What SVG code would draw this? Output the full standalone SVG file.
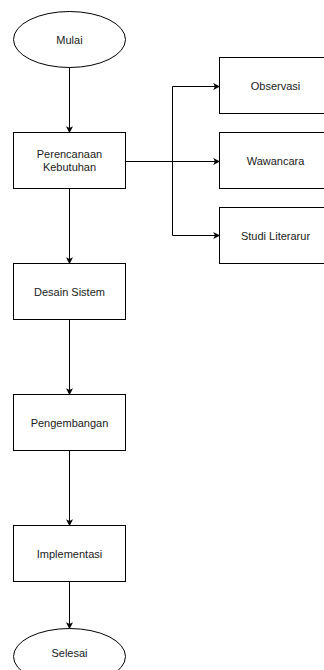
<svg xmlns="http://www.w3.org/2000/svg" width="324" height="670" viewBox="0 0 324 670">
<style>
.n{fill:#fff;stroke:#000;stroke-width:1}
.t{font-family:"Liberation Sans",Arial,sans-serif;font-size:11px;fill:#1a1a1a;text-anchor:middle;dominant-baseline:central}
.c{fill:none;stroke:#000;stroke-width:1}
</style>
<defs>
<marker id="a" viewBox="0 0 10 10" refX="9" refY="5" markerWidth="7" markerHeight="7" markerUnits="userSpaceOnUse" orient="auto">
<path d="M0,0 L10,5 L0,10 L2.5,5 Z" fill="#000"/>
</marker>
</defs>
<rect width="324" height="670" fill="#fff"/>
<g id="connectors">
<path class="c" d="M69.5,67 V132.5" marker-end="url(#a)"/>
<path class="c" d="M69.5,188.5 V263.5" marker-end="url(#a)"/>
<path class="c" d="M69.5,319.5 V394.5" marker-end="url(#a)"/>
<path class="c" d="M69.5,450.5 V525.5" marker-end="url(#a)"/>
<path class="c" d="M69.5,581.5 V628.5" marker-end="url(#a)"/>
<path class="c" d="M125.5,161.5 H219.5" marker-end="url(#a)"/>
<path class="c" d="M172.5,161.5 V86.5 H219.5" marker-end="url(#a)"/>
<path class="c" d="M172.5,161.5 V235.5 H219.5" marker-end="url(#a)"/>
</g>
<g id="mulai"><ellipse class="n" cx="69.5" cy="39.5" rx="56" ry="28"/><text class="t" x="69.5" y="39.5">Mulai</text></g>
<g id="perencanaan"><rect class="n" x="13.5" y="132.5" width="112" height="56"/><text class="t" x="69.5" y="154">Perencanaan</text><text class="t" x="69.5" y="167">Kebutuhan</text></g>
<g id="desain"><rect class="n" x="13.5" y="263.5" width="112" height="56"/><text class="t" x="69.5" y="291.5">Desain Sistem</text></g>
<g id="pengembangan"><rect class="n" x="13.5" y="394.5" width="112" height="56"/><text class="t" x="69.5" y="422.5">Pengembangan</text></g>
<g id="implementasi"><rect class="n" x="13.5" y="525.5" width="112" height="56"/><text class="t" x="69.5" y="553.5">Implementasi</text></g>
<g id="selesai"><ellipse class="n" cx="69.5" cy="656.5" rx="56" ry="28"/><text class="t" x="69.5" y="652.5">Selesai</text></g>
<g id="observasi"><rect class="n" x="219.5" y="57.5" width="112" height="56"/><text class="t" x="275.5" y="85.5">Observasi</text></g>
<g id="wawancara"><rect class="n" x="219.5" y="132.5" width="112" height="56"/><text class="t" x="275.5" y="161">Wawancara</text></g>
<g id="studi"><rect class="n" x="219.5" y="207.5" width="112" height="56"/><text class="t" x="275.5" y="235.5">Studi Literarur</text></g>
</svg>
